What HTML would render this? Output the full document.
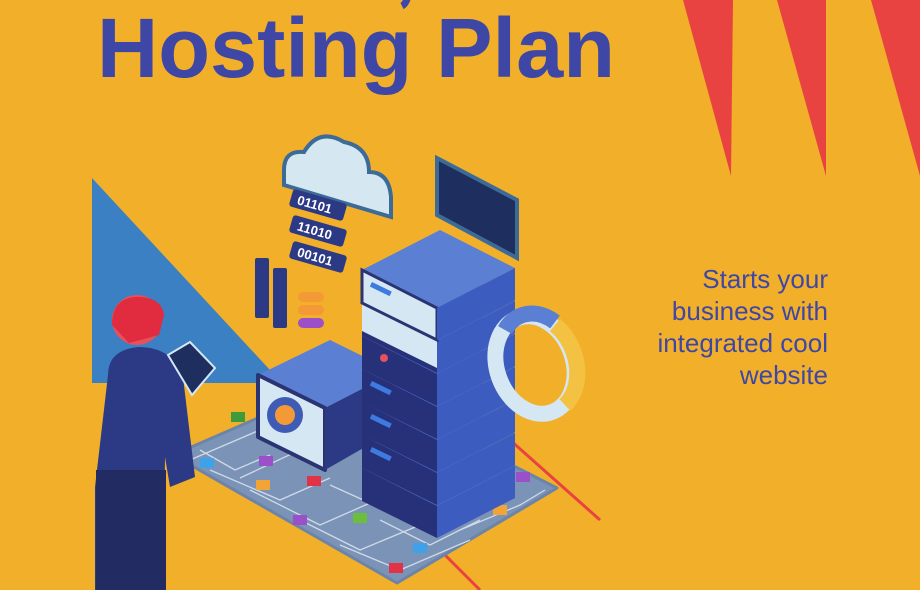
<!DOCTYPE html>
<html><head><meta charset="utf-8"><style>
html,body{margin:0;padding:0;width:920px;height:590px;overflow:hidden;background:#F2B02A}
svg{display:block}
</style></head><body>
<svg width="920" height="590" viewBox="0 0 920 590" xmlns="http://www.w3.org/2000/svg" font-family="Liberation Sans, sans-serif">
<rect width="920" height="590" fill="#F2B02A"/>
<polygon points="683,0 733,0 731,176" fill="#E84340"/>
<polygon points="777,0 826,0 826,176" fill="#E84340"/>
<polygon points="871,0 920,0 920,176" fill="#E84340"/>
<polygon points="92,178 92,383 282,383" fill="#3A80C2"/>
<text x="97" y="77" font-size="84" font-weight="bold" fill="#3E47A5" textLength="518" lengthAdjust="spacingAndGlyphs">Hosting Plan</text>
<path d="M408,-4 q-2,8 -6,10" stroke="#3E47A5" stroke-width="7" fill="none"/>
<g font-size="26" fill="#3E47A5" text-anchor="end">
<text x="828" y="288">Starts your</text>
<text x="828" y="320">business with</text>
<text x="828" y="352">integrated cool</text>
<text x="828" y="384">website</text>
</g>
<line x1="510" y1="440" x2="600" y2="520" stroke="#E84340" stroke-width="3"/>
<line x1="445" y1="555" x2="480" y2="590" stroke="#E84340" stroke-width="3"/>
<polygon points="173,455 345,380 557,488 397,583" fill="#7B93B6" stroke="#6C84A8" stroke-width="3" stroke-linejoin="round"/>
<g stroke="#D8E2EE" stroke-width="1.3" fill="none" opacity="0.9">
<path d="M190,460 L260,430 L300,450 L240,478"/>
<path d="M210,470 L280,500 L330,478"/>
<path d="M250,490 L320,525 L370,503 L330,485"/>
<path d="M300,520 L360,550 L420,525"/>
<path d="M340,545 L400,570 L470,540"/>
<path d="M460,530 L520,505 L545,490"/>
<path d="M200,450 L235,470 L270,455"/>
<path d="M380,520 L430,545 L480,520"/>
</g>
<g>
<rect x="200" y="458" width="14" height="10" fill="#3FA2E8"/>
<rect x="231" y="412" width="14" height="10" fill="#3E9A3A"/>
<rect x="259" y="456" width="14" height="10" fill="#9B4FC9"/>
<rect x="256" y="480" width="14" height="10" fill="#F3A437"/>
<rect x="307" y="476" width="14" height="10" fill="#E03446"/>
<rect x="293" y="515" width="14" height="10" fill="#9B4FC9"/>
<rect x="353" y="513" width="14" height="10" fill="#6BBF3D"/>
<rect x="413" y="543" width="14" height="10" fill="#3FA2E8"/>
<rect x="389" y="563" width="14" height="10" fill="#E03446"/>
<rect x="493" y="505" width="14" height="10" fill="#F3A437"/>
<rect x="516" y="472" width="14" height="10" fill="#9B4FC9"/>
</g>
<polygon points="258,375 330,340 395,372 325,408" fill="#5B7FD3"/>
<polygon points="258,375 325,408 325,470 258,437" fill="#D5E7F2" stroke="#2A3472" stroke-width="4" stroke-linejoin="round"/>
<polygon points="325,408 395,372 395,430 325,470" fill="#2C3A86"/>
<circle cx="285" cy="415" r="18" fill="#3E5BB5"/><circle cx="285" cy="415" r="10" fill="#F39A37"/>
<path d="M284,170 q0,-20 20,-18 q15,-25 40,-10 q25,5 25,30 q20,0 22,25 l0,20 L284,185 Z" fill="#D5E8F2" stroke="#3D6B98" stroke-width="4"/>
<g font-size="13" font-weight="bold" fill="#fff">
<rect x="290" y="196" width="56" height="18" rx="3" fill="#2C3A86" transform="rotate(16 318 205)"/>
<text x="297" y="210" transform="rotate(16 318 205)">01101</text>
<rect x="290" y="222" width="56" height="18" rx="3" fill="#2C3A86" transform="rotate(16 318 231)"/>
<text x="297" y="236" transform="rotate(16 318 231)">11010</text>
<rect x="290" y="248" width="56" height="18" rx="3" fill="#2C3A86" transform="rotate(16 318 257)"/>
<text x="297" y="262" transform="rotate(16 318 257)">00101</text>
</g>
<rect x="255" y="258" width="14" height="60" rx="2" fill="#2C3A86"/>
<rect x="273" y="268" width="14" height="60" rx="2" fill="#2C3A86"/>
<rect x="298" y="292" width="26" height="10" rx="5" fill="#F39A37"/>
<rect x="298" y="305" width="26" height="10" rx="5" fill="#F39A37"/>
<rect x="298" y="318" width="26" height="10" rx="5" fill="#9B4FC9"/>
<polygon points="437,158 517,200 517,258 437,215" fill="#1E2E5E" stroke="#3D6B98" stroke-width="4"/>
<g>
<g transform="translate(0,198)"><polygon points="362,270 440,230 515,268 437,308" fill="#4466C4"/><polygon points="362,270 437,308 437,340 362,303" fill="#26317A"/><polygon points="437,308 515,268 515,300 437,340" fill="#3D5CC0"/></g>
<g transform="translate(0,165)"><polygon points="362,270 440,230 515,268 437,308" fill="#4466C4"/><polygon points="362,270 437,308 437,340 362,303" fill="#26317A"/><polygon points="437,308 515,268 515,300 437,340" fill="#3D5CC0"/><rect x="372" y="282" width="22" height="5" fill="#3E7BE0" transform="rotate(26 372 282)"/></g>
<g transform="translate(0,132)"><polygon points="362,270 440,230 515,268 437,308" fill="#4466C4"/><polygon points="362,270 437,308 437,340 362,303" fill="#26317A"/><polygon points="437,308 515,268 515,300 437,340" fill="#3D5CC0"/><rect x="372" y="282" width="22" height="5" fill="#3E7BE0" transform="rotate(26 372 282)"/></g>
<g transform="translate(0,99)"><polygon points="362,270 440,230 515,268 437,308" fill="#4466C4"/><polygon points="362,270 437,308 437,340 362,303" fill="#26317A"/><polygon points="437,308 515,268 515,300 437,340" fill="#3D5CC0"/><rect x="372" y="282" width="22" height="5" fill="#3E7BE0" transform="rotate(26 372 282)"/></g>
<g transform="translate(0,66)"><polygon points="362,270 440,230 515,268 437,308" fill="#4466C4"/><polygon points="362,270 437,308 437,340 362,303" fill="#26317A"/><polygon points="437,308 515,268 515,300 437,340" fill="#3D5CC0"/><circle cx="384" cy="292" r="4" fill="#E8505E"/></g>
<g transform="translate(0,33)"><polygon points="362,270 440,230 515,268 437,308" fill="#4466C4"/><polygon points="362,270 437,308 437,340 362,303" fill="#26317A"/><polygon points="437,308 515,268 515,300 437,340" fill="#3D5CC0"/><rect x="372" y="282" width="22" height="5" fill="#3E7BE0" transform="rotate(26 372 282)"/></g>
<g transform="translate(0,33)"><polygon points="362,270 437,308 437,335 362,298" fill="#D5E7F2"/></g>
<g><polygon points="362,270 440,230 515,268 437,308" fill="#5B7FD3"/><polygon points="362,270 437,308 437,340 362,303" fill="#D5E7F2" stroke="#2A3472" stroke-width="3"/><polygon points="437,308 515,268 515,300 437,340" fill="#3D5CC0"/><rect x="372" y="282" width="22" height="5" fill="#3E7BE0" transform="rotate(26 372 282)"/></g>
</g>
<ellipse cx="535" cy="365" rx="38" ry="50" fill="none" stroke="#D5E7F2" stroke-width="16" transform="rotate(-20 535 365)"/>
<path d="M555,325 A38,50 -20 0 1 565,405" fill="none" stroke="#F4C242" stroke-width="16"/>
<path d="M505,330 A38,50 -20 0 1 555,322" fill="none" stroke="#5B7FD3" stroke-width="16"/>
<path d="M108,375 q0,-25 30,-28 q35,0 45,30 l12,100 l-25,10 l-5,-30 l-2,150 l-25,0 l-8,-100 l-10,100 l-25,0 l0,-120 Z" fill="#2C3A86"/>
<rect x="96" y="470" width="70" height="120" fill="#232B63"/>
<circle cx="137" cy="320" r="25" fill="#E8505E"/>
<path d="M112,325 q0,-30 30,-28 q20,2 22,18 l-5,20 l-30,8 Z" fill="#E02C3E"/>
<polygon points="168,355 190,342 215,368 192,395" fill="#1E2E5E" stroke="#D5E7F2" stroke-width="2"/>
</svg>
</body></html>
